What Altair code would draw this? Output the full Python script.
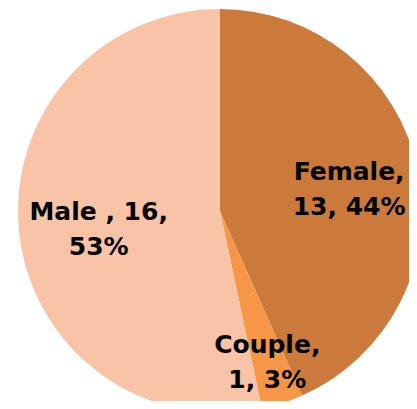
import altair as alt
import pandas as pd

categories = ["Female", "Couple", "Male"]
counts = [13, 1, 16]
label_line1 = ["Female,", "Couple,", "Male , 16,"]
label_line2 = ["13, 44%", "1, 3%", "53%"]
colors = ["#CC7A3C", "#F79646", "#F9C3A8"]

df = pd.DataFrame({
    "category": categories,
    "count": counts,
    "idx": list(range(len(categories))),
    "label": [a + "\n" + b for a, b in zip(label_line1, label_line2)],
})

cx, cy = 212, 203

base = alt.Chart(df)

pie = base.mark_arc(outerRadius=202, stroke=None).encode(
    theta=alt.Theta("count:Q", stack=True),
    order=alt.Order("idx:Q"),
    x=alt.value(cx),
    y=alt.value(cy),
    color=alt.Color("category:N", scale=alt.Scale(domain=categories, range=colors), legend=None),
)

text_base = base.transform_joinaggregate(
    total="sum(count)"
).transform_window(
    cum="sum(count)", sort=[alt.SortField("idx")], frame=[None, 0]
).transform_calculate(
    mid="(datum.cum - datum.count / 2) / datum.total * 2 * PI"
)


def label_layer(cat, r):
    return text_base.transform_filter(alt.datum.category == cat).mark_text(
        font="DejaVu Sans", fontWeight="bold", fontSize=25, lineBreak="\n",
        lineHeight=35, align="center", baseline="middle", color="black",
        radius=r, dy=-12,
    ).encode(
        theta=alt.Theta("mid:Q", scale=None, stack=None),
        x=alt.value(cx),
        y=alt.value(cy),
        text="label:N",
    )


t_female = label_layer("Female", 132)
t_couple = label_layer("Couple", 153)
t_male = label_layer("Male", 122)

chart = (pie + t_female + t_couple + t_male).properties(
    width=401, height=393,
    autosize=alt.AutoSizeParams(type="none"),
    padding=0,
).configure_view(stroke=None)

chart.save("out.html", embed_options={"renderer": "svg", "actions": False})
